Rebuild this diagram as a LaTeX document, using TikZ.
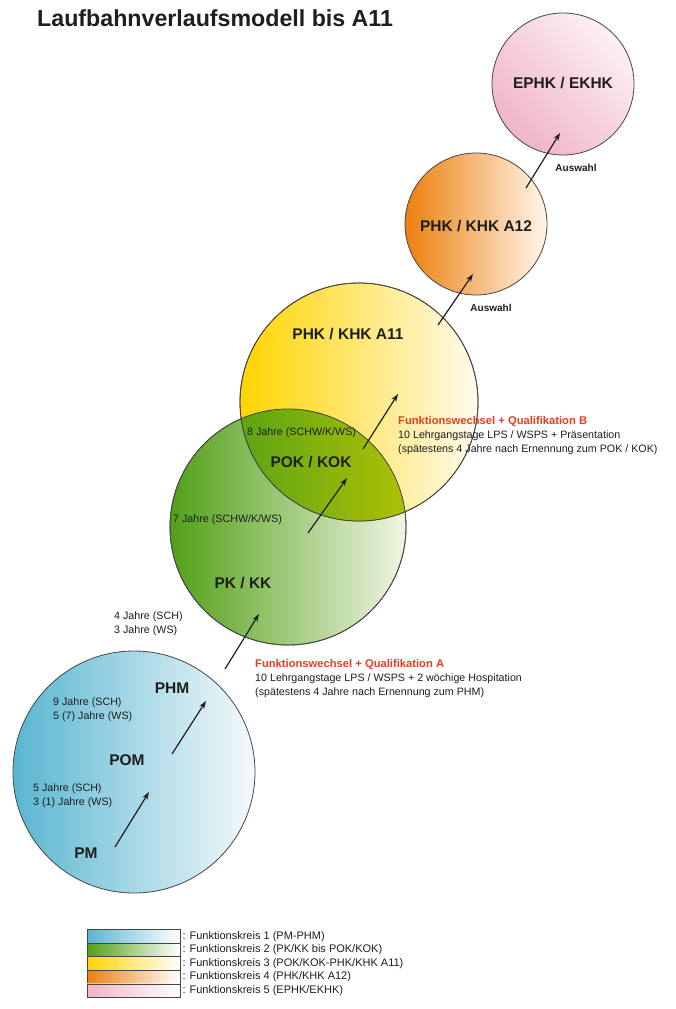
\documentclass[tikz,border=0pt]{standalone}
\usepackage{fontspec}
\setmainfont{Liberation Sans}
\usetikzlibrary{arrows.meta,positioning,calc}

\definecolor{blauL}{RGB}{88,182,208}
\definecolor{blauR}{RGB}{246,250,252}
\definecolor{gruenL}{RGB}{82,160,22}
\definecolor{gruenR}{RGB}{240,245,228}
\definecolor{gelbL}{RGB}{255,212,0}
\definecolor{gelbR}{RGB}{255,251,238}
\definecolor{olivL}{RGB}{92,165,20}
\definecolor{olivR}{RGB}{210,204,0}
\definecolor{orangeL}{RGB}{236,128,14}
\definecolor{orangeR}{RGB}{255,246,236}
\definecolor{rosaL}{RGB}{240,180,200}
\definecolor{rosaR}{RGB}{252,240,244}
\definecolor{rotText}{RGB}{232,62,30}
\definecolor{rand}{RGB}{70,70,70}
\definecolor{schrift}{RGB}{30,30,30}

\tikzset{
	kreis/.style={circle, draw=rand, line width=0.8pt, inner sep=0pt},
	stufe/.style={font=\fontsize{15.5}{18}\selectfont\bfseries, text=schrift},
	notiz/.style={font=\fontsize{10.7}{14}\selectfont, text=schrift, align=left, inner sep=0pt, anchor=west},
	auswahl/.style={font=\fontsize{10}{12}\selectfont\bfseries, text=schrift},
	pfeil/.style={-{Stealth[length=8pt,width=5.5pt]}, line width=1.2pt, schrift},
	legbox/.style={rectangle, draw=rand, line width=0.6pt, minimum width=93pt, minimum height=13.6pt, inner sep=0pt},
}

\begin{document}
\begin{tikzpicture}[x=1pt,y=-1pt]
	\useasboundingbox (0,0) rectangle (675,1009);
	
	% Funktionskreise
	\node[kreis, minimum size=242pt, left color=blauL, right color=blauR] (k1) at (134,772) {};
	\node[kreis, minimum size=236pt, left color=gruenL, right color=gruenR] (k2) at (288,527) {};
	\node[kreis, minimum size=238pt, left color=gelbL, right color=gelbR] (k3) at (359,402) {};
	\begin{scope}
		\clip (k2.center) circle (118pt);
		\fill[left color=olivL, right color=olivR] (k3.center) circle (119pt);
	\end{scope}
	\draw[rand, line width=0.8pt] (k2.center) circle (118pt);
	\draw[rand, line width=0.8pt] (k3.center) circle (119pt);
	\node[kreis, minimum size=142pt, left color=orangeL, right color=orangeR] (k4) at (476,224) {};
	\node[kreis, minimum size=142pt, top color=rosaL, bottom color=rosaR, shading angle=135] (k5) at (563,84) {};
	
	% Stufen
	\node[stufe] (pm) at (86,853) {PM};
	\node[stufe] (pom) at (127,760) {POM};
	\node[stufe] (phm) at (172,688) {PHM};
	\node[stufe] (pk) at (243,583) {PK / KK};
	\node[stufe] (pok) at (311,462) {POK / KOK};
	\node[stufe] (phk) at (348,334) {PHK / KHK A11};
	\node[stufe] (phka) at (476,226) {PHK / KHK A12};
	\node[stufe] (ephk) at (563,83) {EPHK / EKHK};
	
	% Pfeile
	\coordinate (p1a) at (115,847); \coordinate (p1b) at (149,792);
	\coordinate (p2a) at (172,754); \coordinate (p2b) at (206,701);
	\coordinate (p3a) at (225,669); \coordinate (p3b) at (259,614);
	\coordinate (p4a) at (308,533); \coordinate (p4b) at (347,478);
	\coordinate (p5a) at (363,449); \coordinate (p5b) at (398,394);
	\coordinate (p6a) at (438,325); \coordinate (p6b) at (473,274);
	\coordinate (p7a) at (526,188); \coordinate (p7b) at (560,133);
	\foreach \i in {1,...,7}
		\draw[pfeil] (p\i a) -- (p\i b);
	
	\node[auswahl] (aw1) at (576,168) {Auswahl};
	\node[auswahl] (aw2) at (491,308) {Auswahl};
	
	% Dienstzeiten
	\node[notiz] (dz1) at (33,796) {5 Jahre (SCH)\\3 (1) Jahre (WS)};
	\node[notiz] (dz2) at (53,710) {9 Jahre (SCH)\\5 (7) Jahre (WS)};
	\node[notiz] (dz3) at (114,624) {4 Jahre (SCH)\\3 Jahre (WS)};
	\node[notiz] (dz4) at (173,520) {7 Jahre (SCHW/K/WS)};
	\node[notiz] (dz5) at (247,433) {8 Jahre (SCHW/K/WS)};
	
	% Qualifikationen
	\node[notiz] (qa) at (255,679) {{\color{rotText}\bfseries\fontsize{11.2}{14}\selectfont Funktionswechsel + Qualifikation A}\\
		10 Lehrgangstage LPS / WSPS + 2 wöchige Hospitation\\
		(spätestens 4 Jahre nach Ernennung zum PHM)};
	\node[notiz] (qb) at (398,436) {{\color{rotText}\bfseries\fontsize{11.2}{14}\selectfont Funktionswechsel + Qualifikation B}\\
		10 Lehrgangstage LPS / WSPS + Präsentation\\
		(spätestens 4 Jahre nach Ernennung zum POK / KOK)};
	
	% Legende
	\foreach \i/\farbe/\txt in {1/blau/{PM-PHM}, 2/gruen/{PK/KK bis POK/KOK}, 3/gelb/{POK/KOK-PHK/KHK A11}, 4/orange/{PHK/KHK A12}, 5/rosa/{EPHK/EKHK}}{
		\node[legbox, left color=\farbe L, right color=white] (l\i) at (133.5,922.6+13.6*\i) {};
		\node[notiz, font=\fontsize{11}{12}\selectfont, right=2pt of l\i] (lt\i) {: Funktionskreis \i\ (\txt)};
	}
	
	% Titel
	\node[anchor=base west, inner sep=0pt, text=schrift, font=\fontsize{23.2}{26}\selectfont\bfseries] (titel) at (37,26) {Laufbahnverlaufsmodell bis A11};
\end{tikzpicture}
\end{document}
